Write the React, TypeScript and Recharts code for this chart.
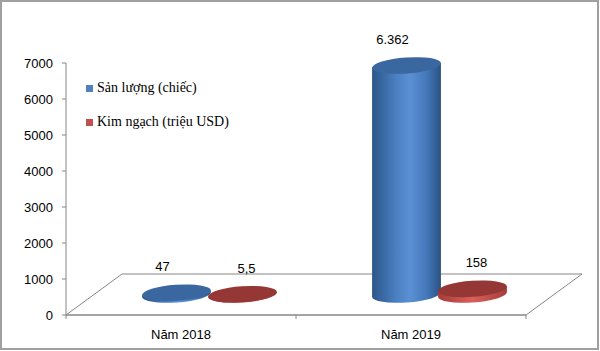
import React from "react";
import { Bar, BarChart, LabelList, XAxis, YAxis } from "recharts";

// ── Data ──────────────────────────────────────────────────────────────────────
const categories = ["Năm 2018", "Năm 2019"];
const sanLuong = [47, 6362]; // Sản lượng (chiếc)
const kimNgach = [5.5, 158]; // Kim ngạch (triệu USD)
const yTicks = [0, 1000, 2000, 3000, 4000, 5000, 6000, 7000];

const SERIES = [
  { key: "sanLuong", name: "Sản lượng (chiếc)", legend: "#4f81bd", labelDx: -14 },
  { key: "kimNgach", name: "Kim ngạch (triệu USD)", legend: "#c0504d", labelDx: 4 },
];

const data = categories.map((name, i) => ({
  name,
  sanLuong: sanLuong[i],
  kimNgach: kimNgach[i],
}));

// ── Layout / theme ────────────────────────────────────────────────────────────
const W = 600;
const H = 351;
const MARGIN = { top: 63, right: 74, left: 0, bottom: 0 };
const Y_AXIS_W = 66;
const X_AXIS_H = 36;
const PLOT = {
  left: MARGIN.left + Y_AXIS_W,
  right: W - MARGIN.right,
  top: MARGIN.top,
  bottom: H - MARGIN.bottom - X_AXIS_H,
};
const DEPTH = { dx: 56, dy: -41 }; // floor depth (3D look)
const HALF = { dx: DEPTH.dx / 2, dy: DEPTH.dy / 2 }; // bars sit mid-depth
const RY = 8;
const TILT = -4;
const LINE = "#868686";
const SANS = "'Liberation Sans', Arial, sans-serif";
const SERIF = "'Liberation Serif', 'Times New Roman', serif";

const COLORS: Record<string, { top: string; stops: [number, string][] }> = {
  sanLuong: {
    top: "#3a679f",
    stops: [
      [0, "#2c568a"],
      [0.35, "#4a7fc1"],
      [0.55, "#5b90d4"],
      [0.8, "#4377b8"],
      [1, "#2a5183"],
    ],
  },
  kimNgach: {
    top: "#953735",
    stops: [
      [0, "#a53b38"],
      [0.5, "#d9605b"],
      [1, "#a63c39"],
    ],
  },
};

// Vietnamese number format: "." thousands, "," decimals
function fmtVi(v: number) {
  const [i, d] = String(v).split(".");
  const int = i.replace(/\B(?=(\d{3})+(?!\d))/g, ".");
  return d ? `${int},${d}` : int;
}

// ── Cylinder bar ──────────────────────────────────────────────────────────────
function Cylinder(props: any) {
  const { x, y, width, height, seriesKey } = props;
  const c = COLORS[seriesKey];
  const rx = width / 2;
  const cx = x + rx + HALF.dx;
  const yTop = y + HALF.dy;
  const yBot = y + Math.max(height, 0) + HALF.dy;
  const t = (TILT * Math.PI) / 180;
  const ex = rx * Math.cos(t);
  const ey = rx * Math.sin(t);
  const body = `M${cx - ex},${yTop - ey} L${cx - ex},${yBot - ey} A${rx},${RY} ${TILT} 0 0 ${cx + ex},${yBot + ey} L${cx + ex},${yTop + ey} Z`;
  return (
    <g>
      <path d={body} fill={`url(#grad-${seriesKey})`} />
      <ellipse
        cx={cx}
        cy={yTop}
        rx={rx}
        ry={RY}
        fill={c.top}
        transform={`rotate(${TILT} ${cx} ${yTop})`}
      />
    </g>
  );
}

function ValueLabel(props: any) {
  const { x, y, width, value, dxOff } = props;
  return (
    <text
      x={x + width / 2 + HALF.dx + dxOff}
      y={y + HALF.dy - RY - 18}
      textAnchor="middle"
      dominantBaseline="central"
      fontFamily={SANS}
      fontSize={13}
      fill="#000"
    >
      {fmtVi(value)}
    </text>
  );
}

// ── Floor (3D plane behind the bars) ──────────────────────────────────────────
function Floor() {
  const { left, right, bottom } = PLOT;
  const pts = [
    [left, bottom],
    [left + DEPTH.dx, bottom + DEPTH.dy],
    [right + DEPTH.dx, bottom + DEPTH.dy],
    [right, bottom],
  ];
  const n = categories.length;
  const step = (right - left) / n;
  return (
    <svg width={W} height={H} style={{ position: "absolute", left: 0, top: 0 }}>
      <polygon points={pts.map((p) => p.join(",")).join(" ")} fill="none" stroke={LINE} />
      {Array.from({ length: n + 1 }, (_, i) => (
        <line
          key={i}
          x1={left + i * step}
          x2={left + i * step}
          y1={bottom}
          y2={bottom + 4}
          stroke={LINE}
        />
      ))}
    </svg>
  );
}

// ── Legend ────────────────────────────────────────────────────────────────────
function LegendBox() {
  return (
    <div style={{ position: "absolute", left: 86, top: 71 }}>
      {SERIES.map((s) => (
        <div
          key={s.key}
          style={{
            display: "flex",
            alignItems: "center",
            height: 34,
            fontFamily: SERIF,
            fontSize: 14,
            color: "#000",
            whiteSpace: "nowrap",
          }}
        >
          <span
            style={{ width: 7, height: 7, background: s.legend, marginRight: 4, display: "inline-block" }}
          />
          {s.name}
        </div>
      ))}
    </div>
  );
}

export default function App() {
  return (
    <div style={{ position: "absolute", left: 0, top: 0, width: W, height: H, background: "#fff" }}>
      <Floor />
      <div style={{ position: "absolute", left: 0, top: 0 }}>
        <BarChart width={W} height={H} data={data} margin={MARGIN} barSize={69} barGap={-3}>
          <defs>
            {Object.entries(COLORS).map(([k, c]) => (
              <linearGradient key={k} id={`grad-${k}`} x1="0" y1="0" x2="1" y2="0">
                {c.stops.map(([o, col]) => (
                  <stop key={o} offset={o} stopColor={col} />
                ))}
              </linearGradient>
            ))}
          </defs>
          <XAxis
            dataKey="name"
            height={X_AXIS_H}
            axisLine={{ stroke: LINE }}
            tickLine={{ stroke: "none" }}
            tickSize={4}
            tickMargin={11}
            tick={{ fill: "#000", fontSize: 13, fontFamily: SANS }}
          />
          <YAxis
            width={Y_AXIS_W}
            domain={[0, 7000]}
            ticks={yTicks}
            interval={0}
            axisLine={{ stroke: LINE }}
            tickLine={{ stroke: LINE }}
            tickSize={4}
            tickMargin={9}
            tick={{ fill: "#000", fontSize: 13, fontFamily: SANS }}
          />
          {SERIES.map((s) => (
            <Bar
              key={s.key}
              dataKey={s.key}
              name={s.name}
              isAnimationActive={false}
              shape={(p: any) => <Cylinder {...p} seriesKey={s.key} />}
            >
              <LabelList
                dataKey={s.key}
                content={(p: any) => <ValueLabel {...p} dxOff={s.labelDx} />}
              />
            </Bar>
          ))}
        </BarChart>
      </div>
      <LegendBox />
      <div
        style={{
          position: "absolute",
          left: 0,
          top: 0,
          width: W - 1,
          height: H - 1,
          boxSizing: "border-box",
          border: "2px solid #a0a0a0",
          pointerEvents: "none",
        }}
      />
    </div>
  );
}
